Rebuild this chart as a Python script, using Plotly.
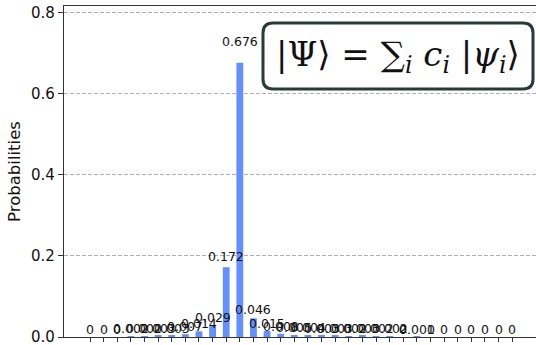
import plotly.graph_objects as go

# Measurement outcomes (5-qubit register) and their probabilities
states = [format(i, "05b") for i in range(32)]
probabilities = [
    0.0, 0.0, 0.0, 0.002, 0.002, 0.003, 0.003, 0.007,
    0.014, 0.029, 0.172, 0.676, 0.046, 0.015, 0.008, 0.005,
    0.004, 0.003, 0.003, 0.002, 0.003, 0.002, 0.002, 0.0,
    0.001, 0.0, 0.0, 0.0, 0.0, 0.0, 0.0, 0.0,
]
y_ticks = [0.0, 0.2, 0.4, 0.6, 0.8]
y_label = "Probabilities"
formula = "|Ψ⟩ = ∑<sub><i>i</i></sub> <i>c<sub>i</sub></i> |<i>ψ<sub>i</sub></i>⟩"

W, H = 536, 345
ML, MR, MT, MB = 64, 0, 6, 8
BAR_COLOR = "#648fff"
AXIS_COLOR = "#333333"
TEXT_COLOR = "#111111"


def value_label(p):
    return "%.3f" % p if p >= 1e-3 else "0"


fig = go.Figure()
fig.add_trace(
    go.Bar(
        x=list(range(len(states))),
        y=probabilities,
        width=0.5,
        marker=dict(color=BAR_COLOR, line=dict(width=0)),
        customdata=states,
        hovertemplate="%{customdata}: %{y}<extra></extra>",
    )
)

# value labels just above every bar
for i, p in enumerate(probabilities):
    fig.add_annotation(
        x=i, y=1.05 * p, xref="x", yref="y",
        text=value_label(p), showarrow=False,
        xanchor="center", yanchor="bottom", yshift=-1,
        font=dict(family="DejaVu Sans", size=12.5, color=TEXT_COLOR),
        borderpad=0,
    )

# framed state formula in the upper right
pw, ph = W - ML - MR, H - MT - MB


def px(xp):
    return (xp - ML) / pw


def py(yp):
    return (H - MB - yp) / ph


x0, x1, top, bot, r = px(263), px(533), py(23), py(89), 10
rx, ry = r / pw, r / ph
path = (
    f"M {x0+rx},{top} L {x1-rx},{top} Q {x1},{top} {x1},{top-ry} "
    f"L {x1},{bot+ry} Q {x1},{bot} {x1-rx},{bot} "
    f"L {x0+rx},{bot} Q {x0},{bot} {x0},{bot+ry} "
    f"L {x0},{top-ry} Q {x0},{top} {x0+rx},{top} Z"
)
fig.add_shape(
    type="path", path=path, xref="paper", yref="paper",
    line=dict(color="#2a3a3c", width=3), fillcolor="white", layer="above",
)
fig.add_annotation(
    x=(x0 + x1) / 2, y=(top + bot) / 2, xref="paper", yref="paper",
    text=formula, showarrow=False, xanchor="center", yanchor="middle",
    font=dict(family="DejaVu Serif", size=34, color=TEXT_COLOR),
)

fig.update_layout(
    width=W, height=H,
    margin=dict(l=ML, r=MR, t=MT, b=MB),
    paper_bgcolor="white", plot_bgcolor="white",
    showlegend=False,
    font=dict(family="DejaVu Sans", color=TEXT_COLOR),
    xaxis=dict(
        range=[-1.909, 32.745],
        tickvals=list(range(len(states))),
        showticklabels=False,
        ticks="outside", ticklen=4, tickcolor=AXIS_COLOR, tickwidth=1,
        showline=True, linecolor=AXIS_COLOR, linewidth=1.2, mirror=True,
        showgrid=False, zeroline=False,
    ),
    yaxis=dict(
        range=[0, 0.816],
        tickvals=y_ticks,
        ticktext=["%.1f" % v for v in y_ticks],
        ticklabeloverflow="allow",
        ticks="outside", ticklen=5, tickcolor=AXIS_COLOR, tickwidth=1,
        tickfont=dict(size=15, color=TEXT_COLOR),
        showline=True, linecolor=AXIS_COLOR, linewidth=1.2,
        showgrid=True, gridcolor="#b0b0b0", gridwidth=1, griddash="4px,2px",
        zeroline=False,
        title=dict(text=y_label, font=dict(size=16.5, color=TEXT_COLOR), standoff=6),
    ),
)

fig.write_html("out.html")
